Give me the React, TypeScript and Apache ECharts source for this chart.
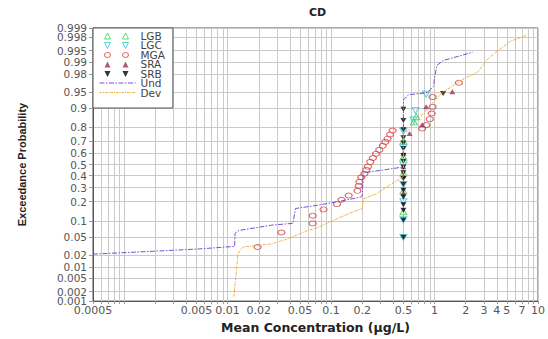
import React, { useEffect, useRef } from "react";
import * as echarts from "echarts";

// ---- data ----
const yTickLabels = [0.001, 0.002, 0.005, 0.01, 0.02, 0.05, 0.1, 0.2, 0.3, 0.4, 0.5, 0.6, 0.7, 0.8, 0.9, 0.95, 0.98, 0.99, 0.995, 0.998, 0.999];
// labels next to the end labels are placed on a twin axis so they are not auto-hidden
const yTwinLabels = [0.002, 0.998];
const xTickLabels = [0.0005, 0.005, 0.01, 0.02, 0.05, 0.1, 0.2, 0.5, 1, 2, 3, 4, 5, 7, 10];
const xGridValues = [
  0.0005, 0.0006, 0.0007, 0.0008, 0.0009,
  0.001, 0.002, 0.003, 0.004, 0.005, 0.006, 0.007, 0.008, 0.009,
  0.01, 0.02, 0.03, 0.04, 0.05, 0.06, 0.07, 0.08, 0.09,
  0.1, 0.2, 0.3, 0.4, 0.5, 0.6, 0.7, 0.8, 0.9,
  1, 2, 3, 4, 5, 6, 7, 8, 9, 10,
];

const lgbX = [0.5, 0.5, 0.5, 0.5, 0.5, 0.631, 0.665];
const lgbP = [0.143, 0.276, 0.424, 0.566, 0.703, 0.834, 0.86];

const lgcX = [0.5, 0.5, 0.5, 0.5, 0.5, 0.5, 0.5, 0.626, 0.654, 0.828];
const lgcP = [0.0497, 0.106, 0.2, 0.327, 0.496, 0.648, 0.775, 0.843, 0.89, 0.944];

const mgaX = [0.0195, 0.0331, 0.0664, 0.0664, 0.0845, 0.114, 0.126, 0.148, 0.18, 0.185, 0.188, 0.196, 0.21, 0.219, 0.227, 0.239, 0.254, 0.272, 0.292, 0.316, 0.334, 0.352, 0.372, 0.393, 0.759, 0.834, 0.9, 0.937, 0.957, 0.957, 1.72];
const mgaP = [0.031, 0.062, 0.0915, 0.1236, 0.155, 0.185, 0.213, 0.242, 0.276, 0.314, 0.349, 0.387, 0.418, 0.452, 0.481, 0.524, 0.559, 0.597, 0.63, 0.665, 0.696, 0.721, 0.752, 0.779, 0.793, 0.815, 0.848, 0.876, 0.904, 0.937, 0.968];

const sraX = [0.5, 0.5, 0.5, 0.5, 0.574, 0.759, 0.83, 1.486];
const sraP = [0.26, 0.4, 0.48, 0.6, 0.759, 0.816, 0.905, 0.95];

const srbX = [0.5, 0.5, 0.5, 0.5, 0.5, 0.5, 0.5, 0.5, 0.5, 0.5, 0.5, 0.5, 0.5, 0.5, 0.5, 0.5, 0.5, 0.5, 1.21];
const srbP = [0.0497, 0.105, 0.15, 0.182, 0.232, 0.281, 0.327, 0.376, 0.426, 0.478, 0.53, 0.582, 0.641, 0.688, 0.728, 0.785, 0.84, 0.895, 0.946];

const undX = [0.0005, 0.0009, 0.0022, 0.0052, 0.0117, 0.0118, 0.0129, 0.0265, 0.0378, 0.0428, 0.0453, 0.073, 0.115, 0.191, 0.2, 0.205, 0.5, 0.5, 0.56, 0.85, 0.98, 1.0, 1.055, 1.21, 2.34];
const undP = [0.0214, 0.0228, 0.0253, 0.028, 0.032, 0.06, 0.068, 0.085, 0.09, 0.0915, 0.16, 0.178, 0.2, 0.23, 0.24, 0.425, 0.478, 0.928, 0.943, 0.948, 0.962, 0.975, 0.9876, 0.9907, 0.9945];

const devX = [0.0115, 0.0126, 0.0141, 0.0195, 0.0265, 0.0378, 0.0586, 0.073, 0.113, 0.151, 0.2, 0.205, 0.272, 0.378, 0.5, 0.5, 0.546, 1.18, 1.96, 2.63, 3.27, 4.08, 5.47, 7.87];
const devP = [0.0014, 0.022, 0.031, 0.0336, 0.0363, 0.046, 0.067, 0.076, 0.109, 0.135, 0.16, 0.219, 0.253, 0.327, 0.392, 0.77, 0.775, 0.948, 0.9747, 0.982, 0.9916, 0.995, 0.9974, 0.9983];

// ---- probability transform (inverse normal CDF, Acklam) ----
function normInv(p: number): number {
  const a = [-3.969683028665376e1, 2.209460984245205e2, -2.759285104469687e2, 1.38357751867269e2, -3.066479806614716e1, 2.506628277459239];
  const b = [-5.447609879822406e1, 1.615858368580409e2, -1.556989798598866e2, 6.680131188771972e1, -1.328068155288572e1];
  const c = [-7.784894002430293e-3, -3.223964580411365e-1, -2.400758277161838, -2.549732539343734, 4.374664141464968, 2.938163982698783];
  const d = [7.784695709041462e-3, 3.224671290700398e-1, 2.445134137142996, 3.754408661907416];
  const pl = 0.02425;
  if (p < pl) {
    const q = Math.sqrt(-2 * Math.log(p));
    return (((((c[0] * q + c[1]) * q + c[2]) * q + c[3]) * q + c[4]) * q + c[5]) / ((((d[0] * q + d[1]) * q + d[2]) * q + d[3]) * q + 1);
  }
  if (p > 1 - pl) {
    const q = Math.sqrt(-2 * Math.log(1 - p));
    return -(((((c[0] * q + c[1]) * q + c[2]) * q + c[3]) * q + c[4]) * q + c[5]) / ((((d[0] * q + d[1]) * q + d[2]) * q + d[3]) * q + 1);
  }
  const q = p - 0.5;
  const r = q * q;
  return ((((((a[0] * r + a[1]) * r + a[2]) * r + a[3]) * r + a[4]) * r + a[5]) * q) / (((((b[0] * r + b[1]) * r + b[2]) * r + b[3]) * r + b[4]) * r + 1);
}

const toPts = (xs: number[], ps: number[]) => xs.map((x, i) => [Math.log10(x), normInv(ps[i])]);

// ---- legend icon paths ----
const frame = "M0,0L0,0M36,8L36,8";
const triUp = (cx: number) => `M${cx - 3},7.5L${cx},1.5L${cx + 3},7.5Z`;
const triDown = (cx: number) => `M${cx - 3},1.5L${cx + 3},1.5L${cx},7.5Z`;
const circ = (cx: number) => `M${cx - 3},4.5A3,2.5 0 1,0 ${cx + 3},4.5A3,2.5 0 1,0 ${cx - 3},4.5Z`;
const dashIcon = (pattern: number[]) => {
  let s = frame;
  let x = 0;
  let k = 0;
  while (x < 36) {
    const len = pattern[k % pattern.length];
    if (k % 2 === 0) {
      const x2 = Math.min(36, x + len);
      s += `M${x},3.6L${x2},3.6L${x2},4.6L${x},4.6Z`;
    }
    x += len;
    k++;
  }
  return s;
};

export default function App() {
  const ref = useRef<HTMLDivElement>(null);
  useEffect(() => {
    if (!ref.current) return;
    const chart = echarts.init(ref.current, undefined, { renderer: "svg" });
    const yMin = normInv(0.001);
    const yMax = normInv(0.999);
    const yAllZ = yTickLabels.map(normInv);
    const yMainLabels = yTickLabels.filter((p) => yTwinLabels.indexOf(p) < 0);
    const yMainZ = yMainLabels.map(normInv);
    const yTwinZ = yTwinLabels.map(normInv);
    const xMin = Math.log10(0.0005);
    const xLabelL = xTickLabels.map((v) => Math.log10(v));
    const xGridL = xGridValues.map((v) => Math.log10(v));
    const nearest = (arr: number[], v: number) => {
      let bi = 0;
      for (let i = 1; i < arr.length; i++) if (Math.abs(arr[i] - v) < Math.abs(arr[bi] - v)) bi = i;
      return bi;
    };
    const tickFont = "'DejaVu Sans', sans-serif";
    const colors = {
      LGB: "#3cd23c",
      LGC: "#2ec4d6",
      MGA: "#d23a3a",
      SRA: "#98305e",
      SRB: "#000000",
      Und: "#7a4fd0",
      Dev: "#f0aa38",
    };
    const hollow = (c: string) => ({ color: "rgba(0,0,0,0)", borderColor: c, borderWidth: 1 });
    const yLabelStyle = {
      showMinLabel: true,
      showMaxLabel: true,
      margin: 6,
      fontFamily: tickFont,
      fontSize: 10.5,
      color: "#555",
    };
    chart.setOption({
      animation: false,
      backgroundColor: "#ffffff",
      title: {
        text: "CD",
        left: 309,
        top: 7,
        padding: 0,
        textStyle: { fontFamily: tickFont, fontWeight: "bold", fontSize: 11, color: "#222" },
      },
      legend: {
        orient: "vertical",
        left: 93,
        top: 28,
        padding: [2, 8, 10, 6],
        itemWidth: 36,
        itemHeight: 8,
        itemGap: -1.5,
        backgroundColor: "#ffffff",
        borderColor: "#555",
        borderWidth: 1,
        borderRadius: 0,
        symbolRotate: 0,
        textStyle: { fontFamily: tickFont, fontSize: 10.5, color: "#444" },
        data: [
          { name: "LGB", icon: "path://" + frame + triUp(8) + triUp(26), itemStyle: hollow(colors.LGB) },
          { name: "LGC", icon: "path://" + frame + triDown(8) + triDown(26), itemStyle: hollow(colors.LGC) },
          { name: "MGA", icon: "path://" + frame + circ(8) + circ(26), itemStyle: hollow(colors.MGA) },
          { name: "SRA", icon: "path://" + frame + triUp(8) + triUp(26), itemStyle: { color: colors.SRA, borderWidth: 0 } },
          { name: "SRB", icon: "path://" + frame + triDown(8) + triDown(26), itemStyle: { color: colors.SRB, borderWidth: 0 } },
          { name: "Und", icon: "path://" + dashIcon([5, 1.5, 1.5, 1.5]), itemStyle: { color: colors.Und, borderWidth: 0 } },
          { name: "Dev", icon: "path://" + dashIcon([2.5, 1, 1, 1]), itemStyle: { color: colors.Dev, borderWidth: 0 } },
        ],
      },
      grid: {
        left: 93,
        right: 3,
        top: 28,
        bottom: 28,
        show: true,
        borderColor: "#555",
        borderWidth: 1,
        backgroundColor: "transparent",
      },
      xAxis: {
        type: "value",
        min: xMin,
        max: 1,
        name: "Mean Concentration (µg/L)",
        nameLocation: "middle",
        nameGap: 16,
        nameTextStyle: { fontFamily: tickFont, fontWeight: "bold", fontSize: 12.5, color: "#222" },
        axisLine: { show: true, onZero: false, lineStyle: { color: "#555", width: 1 } },
        axisTick: { show: true, length: 3, customValues: xGridL, lineStyle: { color: "#999" } },
        axisLabel: {
          customValues: xLabelL,
          showMinLabel: true,
          showMaxLabel: true,
          margin: 4,
          fontFamily: tickFont,
          fontSize: 11,
          color: "#555",
          formatter: (v: number) => String(xTickLabels[nearest(xLabelL, v)]),
        },
        splitLine: { show: true, lineStyle: { color: "#cacaca", width: 1 } },
      },
      yAxis: [
        {
          type: "value",
          min: yMin,
          max: yMax,
          name: "Exceedance Probability",
          nameLocation: "middle",
          nameGap: 66,
          nameTextStyle: {
            fontFamily: "'Liberation Sans', Arial, sans-serif",
            fontWeight: "bold",
            fontSize: 11,
            color: "#222",
          },
          axisLine: { show: true, onZero: false, lineStyle: { color: "#555", width: 1 } },
          axisTick: { show: true, length: 4, customValues: yAllZ, lineStyle: { color: "#999" } },
          axisLabel: {
            ...yLabelStyle,
            customValues: yMainZ,
            formatter: (v: number) => String(yMainLabels[nearest(yMainZ, v)]),
          },
          splitLine: { show: true, lineStyle: { color: "#cacaca", width: 1 } },
        },
        {
          type: "value",
          position: "left",
          offset: 0,
          min: yMin,
          max: yMax,
          axisLine: { show: false, onZero: false },
          axisTick: { show: true, length: 4, customValues: yTwinZ, lineStyle: { color: "#999" } },
          axisLabel: {
            ...yLabelStyle,
            customValues: yTwinZ,
            formatter: (v: number) => String(yTwinLabels[nearest(yTwinZ, v)]),
          },
          splitLine: { show: false },
        },
      ],
      series: [
        {
          name: "LGB", type: "scatter", symbol: "triangle", symbolSize: [7, 6],
          itemStyle: hollow(colors.LGB), data: toPts(lgbX, lgbP),
        },
        {
          name: "LGC", type: "scatter", symbol: "triangle", symbolRotate: 180, symbolSize: [7, 6],
          itemStyle: hollow(colors.LGC), data: toPts(lgcX, lgcP),
        },
        {
          name: "MGA", type: "scatter", symbol: "circle", symbolSize: [7, 5],
          itemStyle: hollow(colors.MGA), data: toPts(mgaX, mgaP),
        },
        {
          name: "SRA", type: "scatter", symbol: "triangle", symbolSize: [6, 5],
          itemStyle: { color: colors.SRA }, data: toPts(sraX, sraP),
        },
        {
          name: "SRB", type: "scatter", symbol: "triangle", symbolRotate: 180, symbolSize: [6, 5],
          itemStyle: { color: colors.SRB }, data: toPts(srbX, srbP),
        },
        {
          name: "Und", type: "line", symbol: "none", showSymbol: false,
          lineStyle: { color: colors.Und, width: 1, type: [5, 1.5, 1.5, 1.5] },
          itemStyle: { color: colors.Und }, data: toPts(undX, undP),
        },
        {
          name: "Dev", type: "line", symbol: "none", showSymbol: false,
          lineStyle: { color: colors.Dev, width: 1, type: [2.5, 1, 1, 1] },
          itemStyle: { color: colors.Dev }, data: toPts(devX, devP),
        },
      ],
    });
    return () => chart.dispose();
  }, []);
  return (
    <div
      ref={ref}
      style={{ position: "absolute", left: 0, top: 0, width: 548, height: 339 }}
    />
  );
}
